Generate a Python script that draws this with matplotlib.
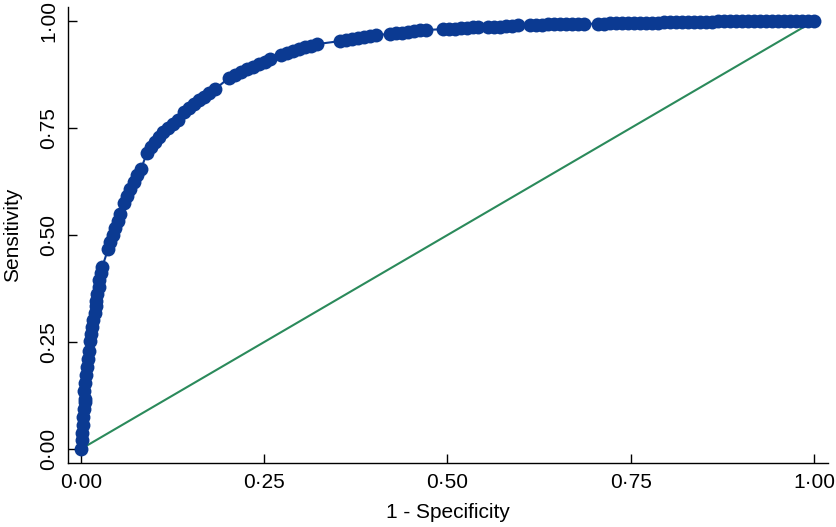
import matplotlib
matplotlib.use("Agg")
import matplotlib.pyplot as plt

# ROC points (1 - specificity, sensitivity)
fpr = [
    0.000, 0.001, 0.002, 0.003, 0.003, 0.004, 0.005, 0.006,
    0.004, 0.005, 0.007, 0.008, 0.010, 0.011,
    0.012, 0.014, 0.015, 0.017, 0.019, 0.020,
    0.021, 0.022, 0.024, 0.025, 0.027, 0.029,
    0.037, 0.040, 0.044, 0.046, 0.050, 0.053,
    0.059, 0.063, 0.067, 0.072, 0.076, 0.082,
    0.090, 0.095, 0.101, 0.106, 0.112, 0.119, 0.126, 0.132,
    0.141, 0.147, 0.154, 0.161, 0.168, 0.175, 0.183,
    0.202, 0.210, 0.218, 0.226, 0.235, 0.243, 0.251, 0.258,
    0.273, 0.281, 0.289, 0.297, 0.306, 0.314, 0.322,
    0.353, 0.362, 0.370, 0.378, 0.386, 0.394, 0.403,
    0.422, 0.430, 0.438, 0.446, 0.454, 0.462, 0.471,
    0.494, 0.502, 0.510, 0.518, 0.527, 0.535, 0.542,
    0.555, 0.563, 0.572, 0.580, 0.588, 0.596,
    0.613, 0.621, 0.629, 0.637, 0.645, 0.653, 0.662, 0.670, 0.678, 0.686,
    0.705, 0.714, 0.722, 0.730, 0.738, 0.746, 0.755, 0.763,
    0.771, 0.779, 0.787, 0.795, 0.804, 0.812, 0.820,
    0.828, 0.836, 0.844, 0.853, 0.861, 0.869, 0.877, 0.885, 0.893, 0.902, 0.910,
    0.918, 0.926, 0.934, 0.943, 0.951, 0.959, 0.967, 0.975, 0.984, 0.992, 1.000,
]
tpr = [
    0.000, 0.020, 0.038, 0.056, 0.075, 0.093, 0.110, 0.118,
    0.136, 0.154, 0.173, 0.192, 0.210, 0.229,
    0.252, 0.269, 0.285, 0.301, 0.318, 0.334,
    0.346, 0.362, 0.379, 0.395, 0.411, 0.425,
    0.467, 0.484, 0.500, 0.516, 0.533, 0.549,
    0.575, 0.591, 0.607, 0.624, 0.640, 0.654,
    0.692, 0.706, 0.717, 0.729, 0.741, 0.750, 0.759, 0.769,
    0.787, 0.797, 0.806, 0.815, 0.822, 0.832, 0.841,
    0.867, 0.874, 0.881, 0.888, 0.893, 0.900, 0.904, 0.911,
    0.921, 0.925, 0.930, 0.935, 0.939, 0.942, 0.946,
    0.953, 0.956, 0.958, 0.960, 0.963, 0.965, 0.967,
    0.970, 0.971, 0.972, 0.974, 0.977, 0.978, 0.979,
    0.981, 0.981, 0.982, 0.984, 0.984, 0.985, 0.986,
    0.986, 0.987, 0.987, 0.988, 0.988, 0.990,
    0.991, 0.991, 0.991, 0.992, 0.992, 0.993, 0.993, 0.993, 0.993, 0.993,
    0.994, 0.994, 0.995, 0.995, 0.995, 0.995, 0.995, 0.995,
    0.996, 0.996, 0.996, 0.997, 0.997, 0.997, 0.997,
    0.998, 0.998, 0.998, 0.998, 0.998, 0.999, 0.999, 0.999, 0.999, 0.999, 0.999,
    0.999, 0.999, 1.000, 1.000, 1.000, 1.000, 1.000, 1.000, 1.000, 1.000, 1.000,
]
ref_line = [0.0, 1.0]
ticks = [0.0, 0.25, 0.5, 0.75, 1.0]
tick_labels = ["0·00", "0·25", "0·50", "0·75", "1·00"]

plt.rcParams["font.family"] = ["Liberation Sans", "DejaVu Sans"]

fig = plt.figure(figsize=(8.36, 5.27), dpi=100)
ax = fig.add_axes([0.0813, 0.1214, 0.9091, 0.8653])

ax.plot(fpr, tpr, "o-", color="#0b3a92", markersize=10, linewidth=1.5,
        markeredgewidth=0, zorder=3)
ax.plot(ref_line, ref_line, color="#2b8a5b", linewidth=1.5, zorder=2)

ax.set_xlim(-0.0177, 1.019)
ax.set_ylim(-0.0327, 1.0327)
for side in ("top", "right"):
    ax.spines[side].set_visible(False)
for side in ("left", "bottom"):
    ax.spines[side].set_linewidth(1.0)

ax.set_xticks(ticks)
ax.set_xticklabels(tick_labels)
ax.set_yticks(ticks)
ax.set_yticklabels(tick_labels, rotation=90, va="center")
ax.tick_params(direction="in", length=6.5, width=1.0, labelsize=15, pad=7)

ax.set_xlabel("1 - Specificity", fontsize=15, labelpad=8)
ax.set_ylabel("Sensitivity", fontsize=15)
ax.yaxis.set_label_coords(-0.061, 0.5)

fig.savefig("out.png", dpi=100)
